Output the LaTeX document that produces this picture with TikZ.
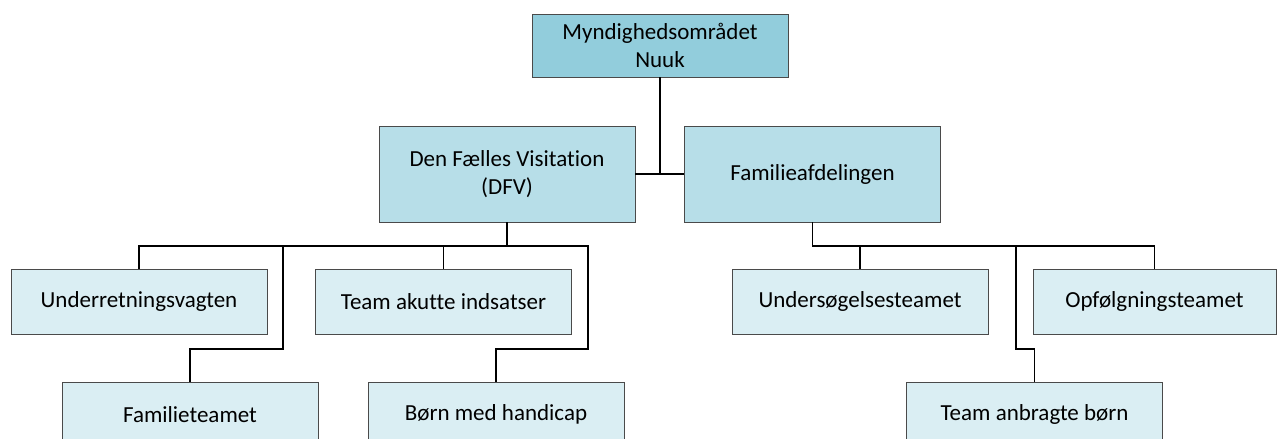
\documentclass[tikz,border=0pt]{standalone}
\usepackage{fontspec}
\setmainfont{Carlito}[Ligatures=NoCommon]
\usepackage{tikz}
\definecolor{toplevel}{HTML}{92CDDC}
\definecolor{midlevel}{HTML}{B7DEE8}
\definecolor{lowlevel}{HTML}{DAEEF3}
\definecolor{edge}{HTML}{4A4A4A}
\tikzset{every picture/.style={x=1pt, y=-1pt}}
\tikzset{unit/.style={draw=edge, line width=0.9pt, inner sep=0pt, align=center,
  minimum width=256pt, font=\fontsize{23}{28}\selectfont}}
\tikzset{toprow/.style={unit, fill=toplevel, minimum height=63pt}}
\tikzset{midrow/.style={unit, fill=midlevel, minimum height=96pt}}
\tikzset{lowrow/.style={unit, fill=lowlevel, minimum height=65pt}}
\tikzset{link/.style={draw=black, line width=1.3pt}}

\begin{document}
\begin{tikzpicture}
\useasboundingbox (0,0) rectangle (1278,439);
\node[toprow] (nuuk) at (660,45.5) {Myndighedsområdet\\Nuuk};
\node[midrow] (dfv) at (507,174) {Den Fælles Visitation\\(DFV)};
\node[midrow] (fam) at (812.5,174) {Familieafdelingen};
\node[lowrow] (underret) at (139,301.5) {Underretningsvagten};
\node[lowrow] (akut) at (443.5,301.5) {Team akutte indsatser};
\node[lowrow] (undersoeg) at (860,301.5) {Undersøgelsesteamet};
\node[lowrow, minimum width=243pt] (opfoelg) at (1154.5,301.5) {Opfølgningsteamet};
\node[lowrow] (famteam) at (190,414.5) {Familieteamet};
\node[lowrow] (boern) at (496,414.5) {Børn med handicap};
\node[lowrow] (anbragt) at (1034.5,414.5) {Team anbragte børn};
\coordinate (dbus) at (588,246);
\coordinate (djog) at (496,349);
\coordinate (fbus) at (283,246);
\coordinate (fjog) at (283,349);
\coordinate (obus) at (1154.5,246);
\coordinate (abus) at (1016,246);
\coordinate (ajog) at (1016,349);
\draw[link] (dfv.east) -- (fam.west);
\draw[link] (nuuk.south) -- (nuuk.south |- dfv.east);
\draw[link] (dfv.south) -- (dfv.south |- dbus);
\draw[link] (underret.north) |- (dbus) |- (djog) -- (boern.north);
\draw[link] (famteam.north) |- (fjog) -- (fbus);
\draw[link] (akut.north) -- (akut.north |- dbus);
\draw[link] (fam.south) |- (obus) -- (opfoelg.north);
\draw[link] (undersoeg.north) -- (undersoeg.north |- obus);
\draw[link] (anbragt.north) |- (ajog) -- (abus);
\end{tikzpicture}
\end{document}
